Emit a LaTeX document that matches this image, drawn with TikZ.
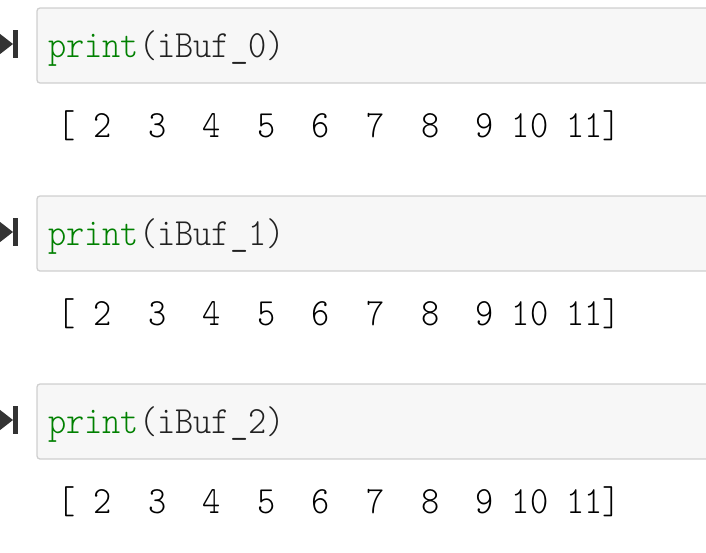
\documentclass[tikz,border=0pt]{standalone}
\usepackage{fontspec}
\newfontfamily\nbmono{lmmonolt10-regular}[Extension=.otf,FakeStretch=0.9]
\definecolor{cellfill}{HTML}{F7F7F7}
\definecolor{cellline}{HTML}{CFCFCF}
\definecolor{kwgreen}{HTML}{008000}
\definecolor{icongray}{HTML}{333333}
\newcommand\nbcode{\nbmono\fontsize{38.5}{44}\selectfont}
\begin{document}
\begin{tikzpicture}[x=1pt,y=1pt,
    cellbox/.style={draw=cellline,fill=cellfill,line width=1.3pt,rounded corners=3pt},
    runicon/.style={fill=icongray},
    codeline/.style={anchor=base west,inner sep=0pt,font=\nbcode,text=black!87},
    outline/.style={anchor=base west,inner sep=0pt,font=\nbcode,text=black}]
  \useasboundingbox (0,0) rectangle (706,-552);
  \clip (0,0) rectangle (706,-552);
  % cell 0
  \fill[runicon] (-5,-30) -- (13,-44) -- (-5,-58) -- cycle;
  \fill[runicon] (13,-30) rectangle (18,-58);
  \draw[cellbox] (37,-8) rectangle (730,-83);
  \node[codeline] (code0) at (48,-57) {\textcolor{kwgreen}{print}(iBuf\_0)};
  \node[outline] (out0) at (57,-137) {[~2~~3~~4~~5~~6~~7~~8~~9~10~11]};
  % cell 1
  \fill[runicon] (-5,-218) -- (13,-232) -- (-5,-246) -- cycle;
  \fill[runicon] (13,-218) rectangle (18,-246);
  \draw[cellbox] (37,-196) rectangle (730,-271);
  \node[codeline] (code1) at (48,-245) {\textcolor{kwgreen}{print}(iBuf\_1)};
  \node[outline] (out1) at (57,-325) {[~2~~3~~4~~5~~6~~7~~8~~9~10~11]};
  % cell 2
  \fill[runicon] (-5,-406) -- (13,-420) -- (-5,-434) -- cycle;
  \fill[runicon] (13,-406) rectangle (18,-434);
  \draw[cellbox] (37,-384) rectangle (730,-459);
  \node[codeline] (code2) at (48,-433) {\textcolor{kwgreen}{print}(iBuf\_2)};
  \node[outline] (out2) at (57,-513) {[~2~~3~~4~~5~~6~~7~~8~~9~10~11]};
\end{tikzpicture}
\end{document}
